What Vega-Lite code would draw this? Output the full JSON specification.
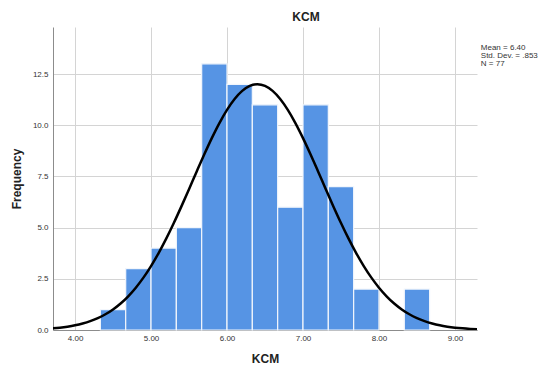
{
  "$schema": "https://vega.github.io/schema/vega-lite/v6.json",
  "width": 424,
  "height": 303,
  "autosize": "none",
  "padding": {"left": 53, "top": 27, "right": 65, "bottom": 37},
  "config": {
    "view": {"stroke": null},
    "font": "Liberation Sans",
    "axis": {
      "gridColor": "#d4d4d4",
      "gridWidth": 1,
      "domainColor": "#8c8c8c",
      "ticks": false,
      "labelFontSize": 8,
      "labelColor": "#333333",
      "titleFontSize": 12,
      "titleFontWeight": "bold",
      "titleColor": "#222222",
      "labelFont": "Liberation Sans",
      "titleFont": "Liberation Sans"
    }
  },
  "title": {
    "text": "KCM",
    "fontSize": 12,
    "fontWeight": "bold",
    "color": "#222222",
    "frame": "group",
    "anchor": "middle",
    "dx": 41,
    "offset": 3
  },
  "datasets": {
    "bins": [
      {"start": 4.3333, "end": 4.6667, "count": 1},
      {"start": 4.6667, "end": 5.0, "count": 3},
      {"start": 5.0, "end": 5.3333, "count": 4},
      {"start": 5.3333, "end": 5.6667, "count": 5},
      {"start": 5.6667, "end": 6.0, "count": 13},
      {"start": 6.0, "end": 6.3333, "count": 12},
      {"start": 6.3333, "end": 6.6667, "count": 11},
      {"start": 6.6667, "end": 7.0, "count": 6},
      {"start": 7.0, "end": 7.3333, "count": 11},
      {"start": 7.3333, "end": 7.6667, "count": 7},
      {"start": 7.6667, "end": 8.0, "count": 2},
      {"start": 8.3333, "end": 8.6667, "count": 2}
    ],
    "curve": [
      {"x": 3.5, "y": 0.037}, {"x": 3.6, "y": 0.055}, {"x": 3.7, "y": 0.080}, {"x": 3.8, "y": 0.115},
      {"x": 3.9, "y": 0.164}, {"x": 4.0, "y": 0.229}, {"x": 4.1, "y": 0.317}, {"x": 4.2, "y": 0.431},
      {"x": 4.3, "y": 0.580}, {"x": 4.4, "y": 0.768}, {"x": 4.5, "y": 1.005}, {"x": 4.6, "y": 1.295},
      {"x": 4.7, "y": 1.648}, {"x": 4.8, "y": 2.067}, {"x": 4.9, "y": 2.557}, {"x": 5.0, "y": 3.122},
      {"x": 5.1, "y": 3.758}, {"x": 5.2, "y": 4.462}, {"x": 5.3, "y": 5.227}, {"x": 5.4, "y": 6.038},
      {"x": 5.5, "y": 6.880}, {"x": 5.6, "y": 7.733}, {"x": 5.7, "y": 8.572}, {"x": 5.8, "y": 9.373},
      {"x": 5.9, "y": 10.109}, {"x": 6.0, "y": 10.754}, {"x": 6.1, "y": 11.284}, {"x": 6.2, "y": 11.679},
      {"x": 6.3, "y": 11.922}, {"x": 6.4, "y": 12.004}, {"x": 6.5, "y": 11.922}, {"x": 6.6, "y": 11.679},
      {"x": 6.7, "y": 11.284}, {"x": 6.8, "y": 10.754}, {"x": 6.9, "y": 10.109}, {"x": 7.0, "y": 9.373},
      {"x": 7.1, "y": 8.572}, {"x": 7.2, "y": 7.733}, {"x": 7.3, "y": 6.880}, {"x": 7.4, "y": 6.038},
      {"x": 7.5, "y": 5.227}, {"x": 7.6, "y": 4.462}, {"x": 7.7, "y": 3.758}, {"x": 7.8, "y": 3.122},
      {"x": 7.9, "y": 2.557}, {"x": 8.0, "y": 2.067}, {"x": 8.1, "y": 1.648}, {"x": 8.2, "y": 1.295},
      {"x": 8.3, "y": 1.005}, {"x": 8.4, "y": 0.768}, {"x": 8.5, "y": 0.580}, {"x": 8.6, "y": 0.431},
      {"x": 8.7, "y": 0.317}, {"x": 8.8, "y": 0.229}, {"x": 8.9, "y": 0.164}, {"x": 9.0, "y": 0.115},
      {"x": 9.1, "y": 0.080}, {"x": 9.2, "y": 0.055}, {"x": 9.3, "y": 0.037}
    ],
    "stats": [
      {"x": 9.34, "y": 13.95, "label": "Mean = 6.40\nStd. Dev. = .853\nN = 77"}
    ]
  },
  "layer": [
    {
      "data": {"name": "bins"},
      "mark": {"type": "bar", "fill": "#5694e4", "stroke": "#f2f6fc", "strokeWidth": 1.2},
      "encoding": {
        "x": {
          "field": "start",
          "type": "quantitative",
          "scale": {"domain": [3.71, 9.29], "nice": false, "zero": false},
          "axis": {"values": [4, 5, 6, 7, 8, 9], "format": ".2f", "title": "KCM", "labelPadding": 4, "titlePadding": 11, "grid": true}
        },
        "x2": {"field": "end"},
        "y": {
          "field": "count",
          "type": "quantitative",
          "scale": {"domain": [0, 14.8], "nice": false},
          "axis": {"values": [0, 2.5, 5, 7.5, 10, 12.5], "format": ".1f", "title": "Frequency", "labelPadding": 5, "titlePadding": 9, "grid": true}
        },
        "y2": {"datum": 0}
      }
    },
    {
      "data": {"name": "curve"},
      "mark": {"type": "line", "color": "#000000", "strokeWidth": 2.5, "clip": true, "interpolate": "monotone"},
      "encoding": {
        "x": {"field": "x", "type": "quantitative"},
        "y": {"field": "y", "type": "quantitative"}
      }
    },
    {
      "data": {"name": "stats"},
      "mark": {"type": "text", "align": "left", "baseline": "top", "fontSize": 8, "lineHeight": 8, "color": "#333333", "lineBreak": "\n", "font": "Liberation Sans"},
      "encoding": {
        "x": {"field": "x", "type": "quantitative"},
        "y": {"field": "y", "type": "quantitative"},
        "text": {"field": "label"}
      }
    }
  ]
}
